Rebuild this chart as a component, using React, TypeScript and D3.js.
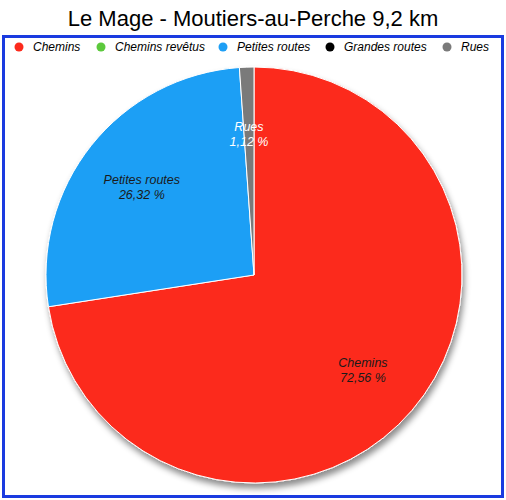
import { useEffect, useRef } from 'react';
import * as d3 from 'd3';

const TITLE = 'Le Mage - Moutiers-au-Perche 9,2 km';
const categories = ['Chemins', 'Chemins revêtus', 'Petites routes', 'Grandes routes', 'Rues'];
const values = [72.56, 0, 26.32, 0, 1.12];
const colors = ['#fc2a1c', '#5cc93c', '#1e9ff5', '#000000', '#7a7a7a'];
const labelColors = ['#1a1a1a', '#1a1a1a', '#1a1a1a', '#ffffff', '#ffffff'];

const W = 506;
const H = 500;

export default function App() {
  const svgRef = useRef<SVGSVGElement>(null);

  useEffect(() => {
    if (!svgRef.current) return;
    const svg = d3.select(svgRef.current);
    svg.selectAll('*').remove();

    const defs = svg.append('defs');
    defs.append('filter').attr('id', 'shadow').attr('x', '-20%').attr('y', '-20%').attr('width', '140%').attr('height', '140%')
      .append('feDropShadow').attr('dx', 2).attr('dy', 5).attr('stdDeviation', 3)
      .attr('flood-color', '#000').attr('flood-opacity', 0.45);

    svg.append('rect').attr('width', W).attr('height', H).attr('fill', '#fff');

    // Title
    svg.append('text').attr('x', W / 2).attr('y', 26).attr('text-anchor', 'middle')
      .attr('font-family', 'Liberation Sans, Arial, sans-serif').attr('font-size', '22px')
      .attr('fill', '#000').text(TITLE);

    // Frame
    svg.append('rect').attr('x', 3.5).attr('y', 36.5).attr('width', W - 7).attr('height', H - 40)
      .attr('fill', 'none').attr('stroke', '#1a3be0').attr('stroke-width', 3);

    // Legend
    const legendX = [19, 101, 223, 330, 447];
    const lg = svg.append('g').attr('font-family', 'Liberation Sans, Arial, sans-serif')
      .attr('font-size', '12px').attr('font-style', 'italic');
    categories.forEach((c, i) => {
      lg.append('circle').attr('cx', legendX[i]).attr('cy', 47).attr('r', 4.5).attr('fill', colors[i]);
      lg.append('text').attr('x', legendX[i] + 14).attr('y', 51).attr('fill', '#000').text(c);
    });

    // Pie
    const cx = 254, cy = 275, r = 208;
    const pie = d3.pie<number>().sort(null).value(d => d);
    const arcs = pie(values);
    const arc = d3.arc<d3.PieArcDatum<number>>().innerRadius(0).outerRadius(r);
    const labelArc = d3.arc<d3.PieArcDatum<number>>().innerRadius(r * 0.69).outerRadius(r * 0.69);

    const g = svg.append('g').attr('transform', `translate(${cx},${cy})`);
    const slices = g.append('g').attr('filter', 'url(#shadow)');
    slices.selectAll('path').data(arcs.filter(a => a.value > 0)).join('path')
      .attr('d', arc)
      .attr('fill', d => colors[d.index])
      .attr('stroke', '#fff').attr('stroke-width', 1);

    const fmt = (v: number) => v.toFixed(2).replace('.', ',') + ' %';
    const lbl = g.append('g').attr('font-family', 'Liberation Sans, Arial, sans-serif')
      .attr('font-size', '12.5px').attr('font-style', 'italic').attr('text-anchor', 'middle');
    arcs.filter(a => a.value > 0).forEach(a => {
      const [lx, ly] = labelArc.centroid(a);
      const t = lbl.append('text').attr('fill', labelColors[a.index]);
      t.append('tspan').attr('x', lx).attr('y', ly - 1).text(categories[a.index]);
      t.append('tspan').attr('x', lx).attr('y', ly + 14).text(fmt(a.value));
    });
  }, []);

  return (
    <div style={{ position: 'absolute', left: 0, top: 0 }}>
      <svg ref={svgRef} width={W} height={H} style={{ display: 'block' }} />
    </div>
  );
}
